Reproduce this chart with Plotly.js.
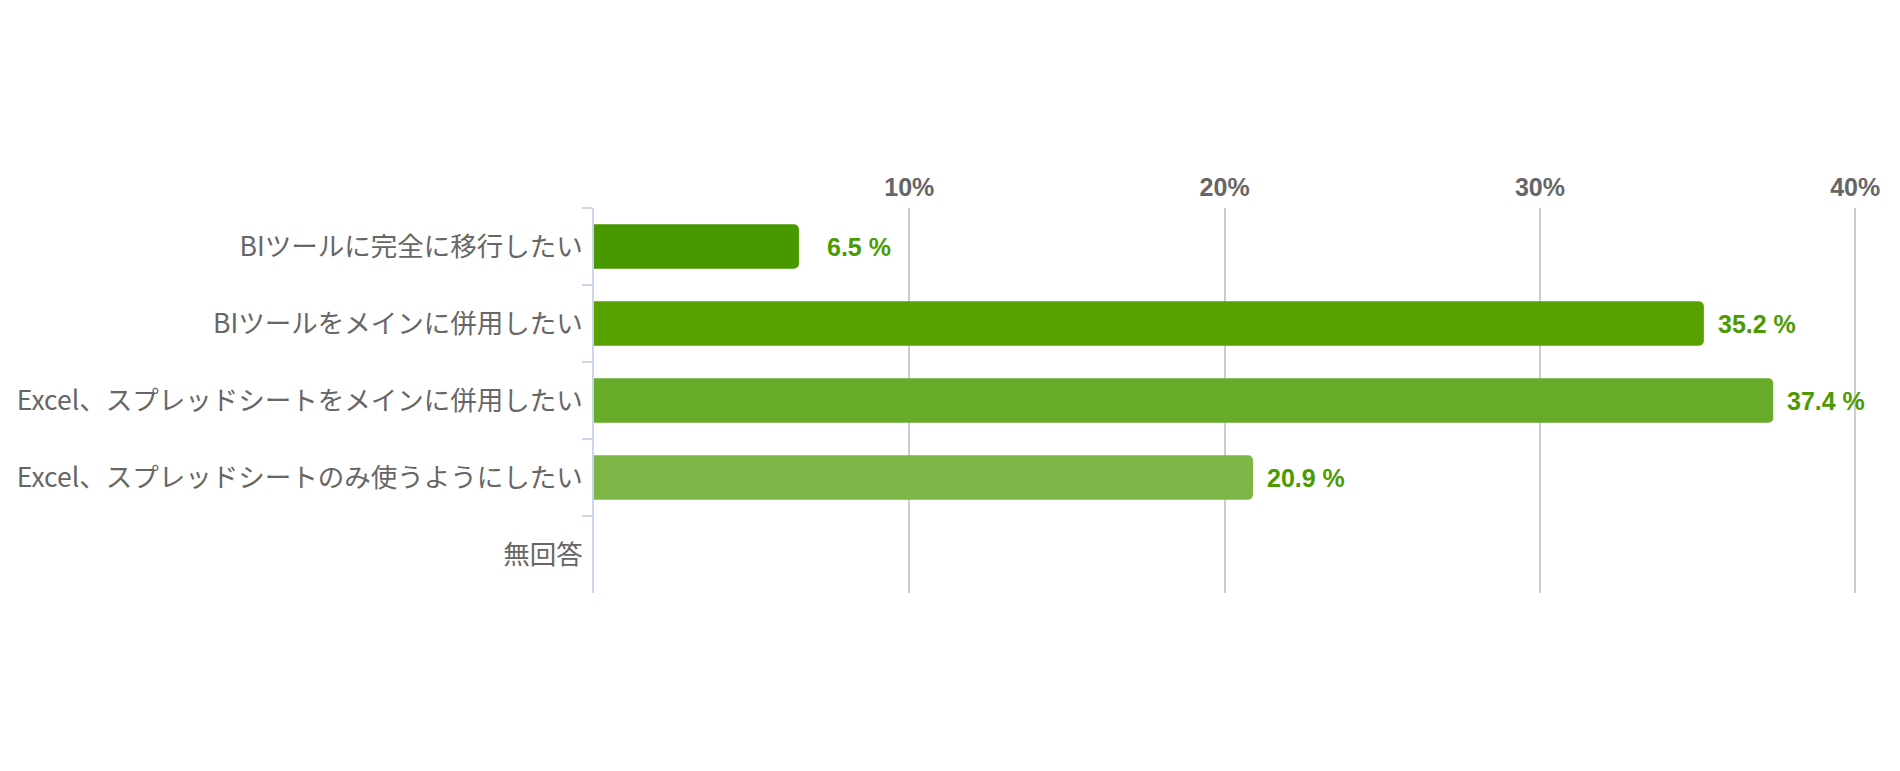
<!DOCTYPE html>
<html>
<head>
<meta charset="utf-8">
<script src="https://cdn.plot.ly/plotly-3.0.1.min.js"></script>
<style>
  html, body { margin: 0; padding: 0; background: #fff; }
  #graph { width: 1900px; height: 771px; }
</style>
</head>
<body>
<div id="graph"></div>
<script>
// answers, top to bottom
const categories = [
    'BIツールに完全に移行したい',
    'BIツールをメインに併用したい',
    'Excel、スプレッドシートをメインに併用したい',
    'Excel、スプレッドシートのみ使うようにしたい',
    '無回答'
];
const values = [6.5, 35.2, 37.4, 20.9, 0];
const barColors = ['#489800', '#58a200', '#67ab28', '#7bb647', '#8cc163'];

const tickVals = [10, 20, 30, 40];
const tickText = ['10%', '20%', '30%', '40%'];

const labelColor = '#4b9a00';

let TESTER = document.getElementById('graph');

var trace1 = {
    type: 'bar',
    orientation: 'h',
    x: values,
    y: categories,
    hoverinfo: 'none',
    marker: {
        color: barColors,
        cornerradius: 5,
        line: { width: 0 }
    }
};

// value labels sit right-aligned a fixed distance past the bar end
let annotations = [];
values.forEach((v, i) => {
    if (v <= 0) return;
    annotations.push({
        x: v,
        y: categories[i],
        xref: 'x',
        yref: 'y',
        text: v.toFixed(1) + ' %',
        showarrow: false,
        xanchor: 'right',
        yanchor: 'middle',
        xshift: 94,
        font: { family: 'Liberation Sans, Arial, sans-serif', size: 25, color: labelColor, weight: 'bold' }
    });
});

var layout = {
    width: 1900,
    height: 771,
    margin: { l: 594, r: 41, t: 208, b: 178, pad: 0 },
    paper_bgcolor: '#ffffff',
    plot_bgcolor: '#ffffff',
    showlegend: false,
    bargap: 0.42,
    xaxis: {
        side: 'top',
        range: [0, 40.12],   // a little room so the 40% grid line is drawn
        tickmode: 'array',
        tickvals: tickVals,
        ticktext: tickText,
        ticks: '',
        ticklabelstandoff: 6,
        tickfont: { family: 'Liberation Sans, Arial, sans-serif', size: 25, color: '#666666', weight: 'bold' },
        showgrid: true,
        gridcolor: '#cccccc',
        gridwidth: 2,
        zeroline: false,
        showline: false,
        fixedrange: true
    },
    yaxis: {
        type: 'category',
        autorange: 'reversed',
        showgrid: false,
        zeroline: false,
        showline: true,
        linecolor: '#ccd6eb',
        linewidth: 2,
        ticks: 'outside',
        tickson: 'boundaries',
        ticklen: 10,
        tickwidth: 2,
        tickcolor: '#ccd6eb',
        ticklabelstandoff: 4,
        tickfont: { family: 'Noto Sans CJK JP, sans-serif', size: 26.5, color: '#666666' },
        fixedrange: true
    },
    annotations: annotations
};

var config = { responsive: false, displayModeBar: false, staticPlot: true };
Plotly.newPlot(TESTER, [trace1], layout, config);
</script>
</body>
</html>
